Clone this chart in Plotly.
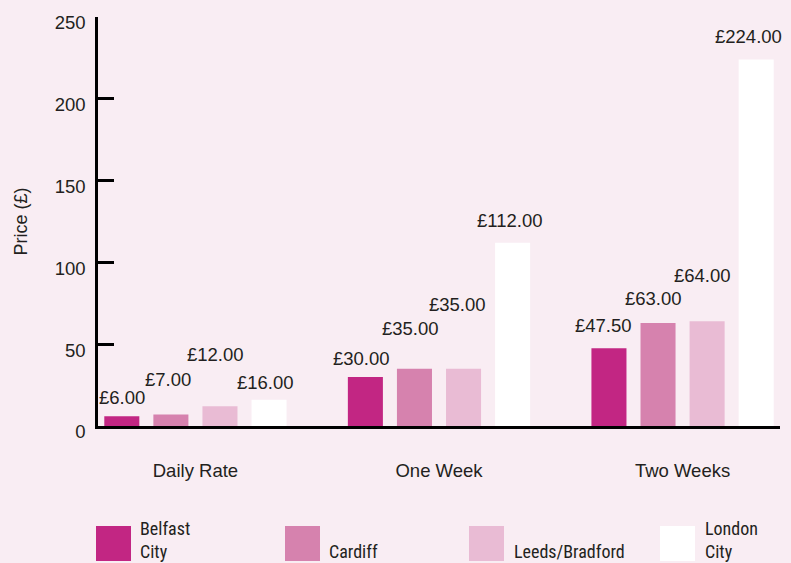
import plotly.graph_objects as go

categories = ["Daily Rate", "One Week", "Two Weeks"]
series_names = ["Belfast<br>City", "Cardiff", "Leeds/Bradford", "London<br>City"]
belfast = [6.00, 30.00, 47.50]
cardiff = [7.00, 35.00, 63.00]
leeds = [12.00, 35.00, 64.00]
london = [16.00, 112.00, 224.00]
y_ticks = [0, 50, 100, 150, 200, 250]

series_values = [belfast, cardiff, leeds, london]
colors = ["#C22683", "#D682AE", "#E9BBD4", "#FFFFFF"]
bg = "#F9EDF3"
FONT = "Liberation Sans, Arial, sans-serif"
NARROW = "Liberation Sans Narrow, Roboto Condensed, DejaVu Sans Condensed, Liberation Sans, sans-serif"
txt_col = "#231F20"

bargap = 0.194
bargroupgap = 0.286

# label staggering (pixels), per series per category
label_yshift = [[19, 18, 23], [35, 40, 24], [52, 64, 46], [17, 22, 23]]
label_xshift = [[0.5, -3.5, -5.5], [-2.5, -3.5, -4.5], [-4, -6.5, -5], [-3.5, -3, -7.5]]

fig = go.Figure()
for name, vals, col in zip(series_names, series_values, colors):
    fig.add_trace(go.Bar(x=categories, y=vals, name=name.replace("<br>", " "),
                         marker=dict(color=col, line=dict(width=0)),
                         showlegend=False))

n = len(series_values)
slot = (1 - bargap) / n
annotations = []
for k, vals in enumerate(series_values):
    off = -(1 - bargap) / 2 + slot * (k + 0.5)
    for i, v in enumerate(vals):
        annotations.append(dict(
            x=i + off, y=v, xref="x", yref="y", text=f"£{v:.2f}",
            showarrow=False, yanchor="middle", xanchor="center",
            yshift=label_yshift[k][i], xshift=label_xshift[k][i],
            font=dict(family=FONT, size=18.5, color=txt_col)))

# custom legend (pixel positions converted to paper coords)
L, T, W, H = 98, 17, 682, 409
def px(xp):
    return (xp - L) / W
def py(yp):
    return (T + H - yp) / H

sw_x = [96, 285, 469, 660]
txt_x = [138, 327, 512, 703]
shapes = []
for k, name in enumerate(series_names):
    shapes.append(dict(type="rect", xref="paper", yref="paper",
                       x0=px(sw_x[k]), x1=px(sw_x[k] + 35),
                       y0=py(561), y1=py(526),
                       fillcolor=colors[k], line=dict(width=0)))
    annotations.append(dict(xref="paper", yref="paper", x=px(txt_x[k]), y=py(564),
                            xanchor="left", yanchor="bottom", align="left",
                            text=name, showarrow=False,
                            font=dict(family=NARROW, size=18, color=txt_col)))

fig.update_layout(
    width=791, height=563,
    margin=dict(l=L, r=791 - L - W, t=T, b=563 - T - H, pad=0, autoexpand=False),
    paper_bgcolor=bg, plot_bgcolor=bg,
    barmode="group", bargap=bargap, bargroupgap=bargroupgap,
    font=dict(family=FONT, size=18.5, color=txt_col),
    annotations=annotations, shapes=shapes,
    xaxis=dict(type="category", range=[-0.4, 2.4], showline=True, linecolor="black",
               linewidth=2.5, ticks="", showgrid=False, zeroline=False, automargin=False,
               ticklabelstandoff=26,
               tickfont=dict(family=FONT, size=18.5, color=txt_col)),
    yaxis=dict(range=[0, 250], tickvals=y_ticks, showline=True, linecolor="black",
               linewidth=2.5, ticks="inside", ticklen=16, tickwidth=2.5, tickcolor="black",
               showgrid=False, zeroline=False, automargin=False,
               ticklabelstandoff=6, ticklabelshift=6,
               tickfont=dict(family=FONT, size=18.5, color=txt_col),
               title=dict(text="Price (£)", standoff=23,
                          font=dict(family=FONT, size=18, color=txt_col))),
)

fig.write_html("out.html", config={"displayModeBar": False},
               post_script="document.body.style.margin='0';document.body.style.overflow='hidden';")
